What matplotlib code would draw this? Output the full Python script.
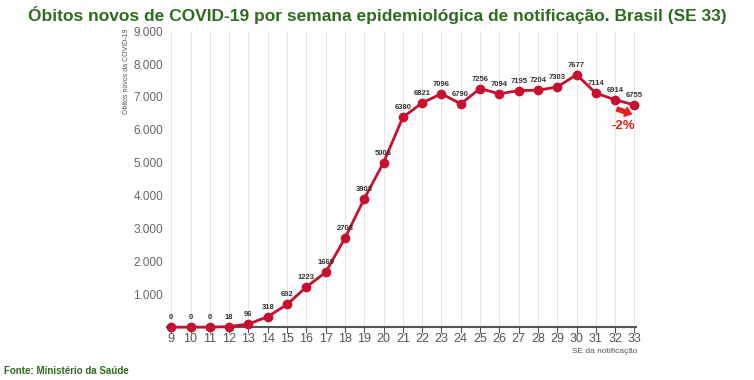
import numpy as np
import matplotlib.pyplot as plt
from matplotlib.patches import FancyArrow

semanas = list(range(9, 34))
obitos = [0, 0, 0, 18, 96, 318, 692, 1223, 1669, 2708, 3903, 5006, 6380,
          6821, 7096, 6790, 7256, 7094, 7195, 7204, 7303, 7677, 7114, 6914, 6755]
yticks = [1000, 2000, 3000, 4000, 5000, 6000, 7000, 8000, 9000]
ytick_labels = ['1.000', '2.000', '3.000', '4.000', '5.000', '6.000', '7.000', '8.000', '9.000']

verde = '#2e6b1f'
vermelho = '#c8102e'
plt.rcParams['font.family'] = ['Liberation Sans', 'DejaVu Sans']

fig = plt.figure(figsize=(7.54, 3.80), dpi=100)
ax = fig.add_axes([0.222, 0.139, 0.622, 0.779])

for s in semanas:
    ax.axvline(s, color='#e6e6e6', lw=0.7, zorder=0)

ax.plot(semanas, obitos, color=vermelho, lw=2, marker='o', ms=6, zorder=3, clip_on=False)
for s, v in zip(semanas, obitos):
    ax.text(s, v + 180, str(v), ha='center', va='bottom', fontsize=5.5, fontweight='bold',
            color='#333333', zorder=4)

ax.set_xlim(8.8, 33.1)
ax.set_ylim(0, 9000)
ax.set_xticks(semanas)
ax.set_xticklabels([str(s) for s in semanas], fontsize=9, color='#555555')
ax.set_yticks(yticks)
ax.set_yticklabels(ytick_labels, fontsize=8.5, color='#666666')
ax.tick_params(axis='y', length=0, pad=3)
ax.tick_params(axis='x', length=4, width=0.8, color='#555555', pad=0)
for side in ['top', 'right', 'left']:
    ax.spines[side].set_visible(False)
ax.spines['bottom'].set_color('#555555')
ax.spines['bottom'].set_linewidth(1.5)

fig.text(0.168, 0.925, 'Óbitos novos da COVID-19', rotation=90, fontsize=5,
         color='#555555', ha='center', va='top')
fig.text(0.846, 0.075, 'SE da notificação', fontsize=6, color='#555555', ha='right', va='center')

# seta e variação (em polegadas, para não deformar)
fig.patches.append(FancyArrow(6.17, 2.71, 0.145, -0.05, width=0.04, head_width=0.095,
                              head_length=0.065, length_includes_head=True, color='#e8201f',
                              transform=fig.dpi_scale_trans, figure=fig))
ax.text(32.4, 6120, '-2%', color='#e8201f', fontsize=9.5, fontweight='bold', ha='center', va='center')

fig.text(0.5, 0.985, 'Óbitos novos de COVID-19 por semana epidemiológica de notificação. Brasil (SE 33)',
         ha='center', va='top', fontsize=12.5, fontweight='bold', color=verde)
fig.text(0.005, 0.025, 'Fonte: Ministério da Saúde', ha='left', va='center', fontsize=7,
         fontweight='bold', color=verde)

fig.savefig('out.png', dpi=100)
